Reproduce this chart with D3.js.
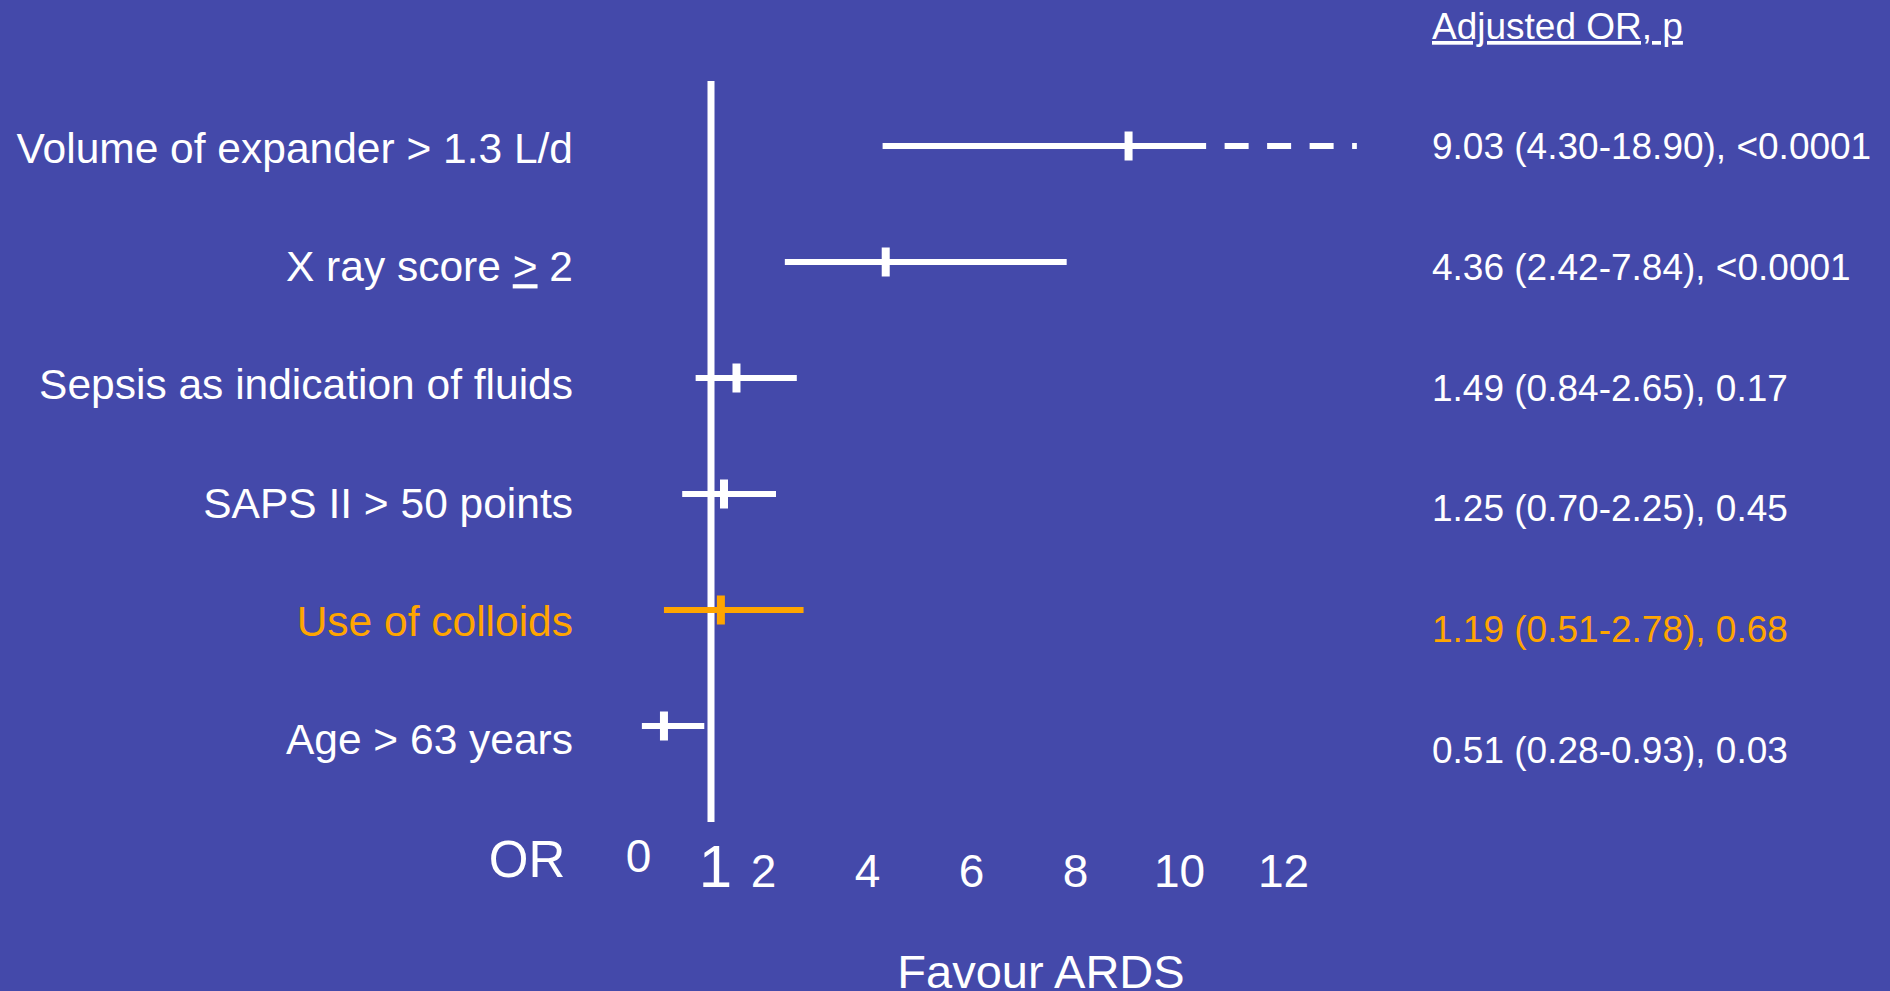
<!DOCTYPE html>
<html>
<head>
    <meta charset="utf-8">
    <style>
        body {
            margin: 0;
            background: #4449AA;
        }

        svg text {
            font-family: "Liberation Sans", Arial, sans-serif;
            fill: #ffffff;
        }
    </style>
</head>
<body>
<div id="chart"></div>
<script type="text/javascript" src="https://cdn.jsdelivr.net/npm/d3@7"></script>
<script type="text/javascript">

    // rows, top to bottom
    var factors = ["Volume of expander > 1.3 L/d", "X ray score ≥ 2", "Sepsis as indication of fluids",
        "SAPS II > 50 points", "Use of colloids", "Age > 63 years"];
    var oddsRatio = [9.03, 4.36, 1.49, 1.25, 1.19, 0.51];
    var ciLow = [4.30, 2.42, 0.84, 0.70, 0.51, 0.28];
    var ciHigh = [18.90, 7.84, 2.65, 2.25, 2.78, 0.93];
    var pValues = ["<0.0001", "<0.0001", "0.17", "0.45", "0.68", "0.03"];
    var xTicks = [0, 1, 2, 4, 6, 8, 10, 12];
    var highlighted = "Use of colloids";

    var w = 1890;
    var h = 991;
    var white = "#ffffff";
    var orange = "#FFA500";

    // CI beyond the axis is drawn solid up to axisCap, then dashed
    var axisCap = 10.5;
    var dashFrom = 10.06;
    var dashTo = 13.42;

    var rows = factors.map(function (f, i) {
        return {name: f, or: oddsRatio[i], lo: ciLow[i], hi: ciHigh[i], p: pValues[i]};
    });

    function colorOf(d) {
        return d.name === highlighted ? orange : white;
    }

    var f2 = d3.format(".2f");

    // the slide's axis is stretched below 1
    var xScale = d3.scaleLinear()
        .domain([0, 1, 12])
        .range([615, 711, 1283]);

    var yMark = d3.scalePoint().domain(factors).range([146, 726]);
    var yLabel = d3.scalePoint().domain(factors).range([163, 754]);
    var yValue = d3.scalePoint().domain(factors).range([159, 763]);

    var svg = d3.select("#chart")
        .append("svg")
        .attr("width", w)
        .attr("height", h);

    svg.append("rect")
        .attr("width", w)
        .attr("height", h)
        .attr("fill", "#4449AA");

    // line of no effect
    svg.append("line")
        .attr("x1", xScale(1))
        .attr("x2", xScale(1))
        .attr("y1", 81)
        .attr("y2", 822)
        .attr("stroke", white)
        .attr("stroke-width", 7);

    // factor labels, the ≥ is written as an underlined >
    var labels = svg.selectAll("text.factor")
        .data(rows)
        .enter()
        .append("text")
        .attr("class", "factor")
        .attr("x", 573)
        .attr("y", function (d) {
            return yLabel(d.name);
        })
        .attr("text-anchor", "end")
        .attr("font-size", 42.5)
        .style("fill", colorOf);

    labels.each(function (d) {
        var t = d3.select(this);
        var parts = d.name.split("≥");
        t.append("tspan").text(parts[0]);
        if (parts.length > 1) {
            t.append("tspan").text(">").style("text-decoration", "underline");
            t.append("tspan").text(parts[1]);
        }
    });

    // confidence intervals
    svg.selectAll("line.ci")
        .data(rows)
        .enter()
        .append("line")
        .attr("class", "ci")
        .attr("x1", function (d) {
            return xScale(d.lo);
        })
        .attr("x2", function (d) {
            return xScale(Math.min(d.hi, axisCap));
        })
        .attr("y1", function (d) {
            return yMark(d.name);
        })
        .attr("y2", function (d) {
            return yMark(d.name);
        })
        .attr("stroke", colorOf)
        .attr("stroke-width", 6);

    svg.selectAll("line.ci-more")
        .data(rows.filter(function (d) {
            return d.hi > axisCap;
        }))
        .enter()
        .append("line")
        .attr("class", "ci-more")
        .attr("x1", xScale(dashFrom))
        .attr("x2", xScale(dashTo))
        .attr("y1", function (d) {
            return yMark(d.name);
        })
        .attr("y2", function (d) {
            return yMark(d.name);
        })
        .attr("stroke", colorOf)
        .attr("stroke-width", 6)
        .attr("stroke-dasharray", "24,18.5");

    // point estimates
    svg.selectAll("rect.or")
        .data(rows)
        .enter()
        .append("rect")
        .attr("class", "or")
        .attr("x", function (d) {
            return xScale(d.or) - 4;
        })
        .attr("y", function (d) {
            return yMark(d.name) - 14.5;
        })
        .attr("width", 8)
        .attr("height", 29)
        .attr("fill", colorOf);

    // right column
    svg.append("text")
        .attr("x", 1432)
        .attr("y", 39)
        .attr("font-size", 37)
        .style("text-decoration", "underline")
        .text("Adjusted OR, p");

    svg.selectAll("text.value")
        .data(rows)
        .enter()
        .append("text")
        .attr("class", "value")
        .attr("x", 1432)
        .attr("y", function (d) {
            return yValue(d.name);
        })
        .attr("font-size", 37)
        .style("fill", colorOf)
        .text(function (d) {
            return f2(d.or) + " (" + f2(d.lo) + "-" + f2(d.hi) + "), " + d.p;
        });

    // x axis
    var xAxis = d3.axisBottom(xScale)
        .tickValues(xTicks)
        .tickSize(0)
        .tickPadding(0)
        .tickFormat(d3.format("d"));

    var gx = svg.append("g")
        .attr("transform", "translate(0,887)")
        .call(xAxis)
        .attr("font-family", null)
        .attr("font-size", null);

    gx.select(".domain").remove();

    gx.selectAll("text")
        .attr("y", 0)
        .attr("dy", 0)
        .attr("font-size", 46)
        .style("fill", white);

    gx.selectAll("text")
        .filter(function (d) {
            return d === 1;
        })
        .attr("dx", 4)
        .attr("font-size", 60);

    gx.selectAll("text")
        .filter(function (d) {
            return d === 0;
        })
        .attr("dx", 23)
        .attr("y", -15)
        .attr("font-size", 46);

    svg.append("text")
        .attr("x", 527)
        .attr("y", 877)
        .attr("text-anchor", "middle")
        .attr("font-size", 51)
        .text("OR");

    svg.append("text")
        .attr("x", 1041)
        .attr("y", 988)
        .attr("text-anchor", "middle")
        .attr("font-size", 47)
        .text("Favour ARDS");

</script>
</body>
</html>
